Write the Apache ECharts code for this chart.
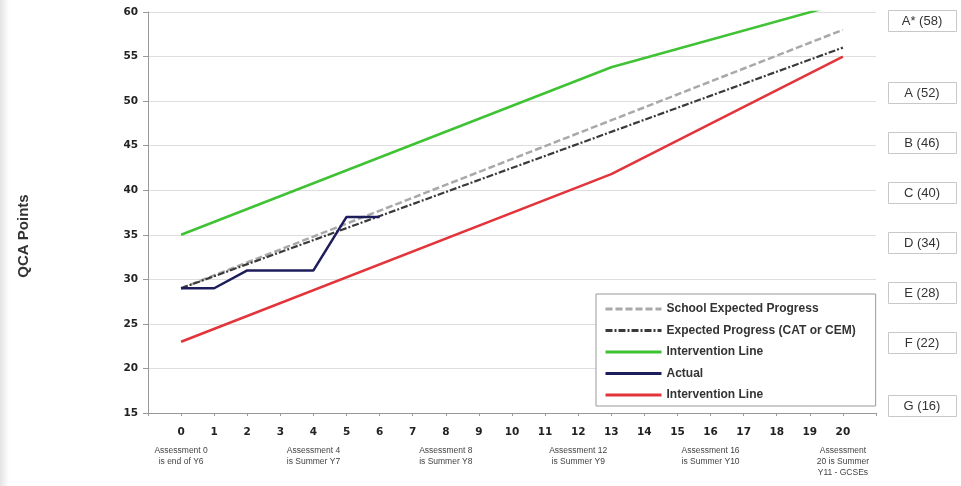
<!DOCTYPE html>
<html>
<head>
<meta charset="utf-8">
<script src="https://cdn.jsdelivr.net/npm/echarts@6/dist/echarts.min.js"></script>
<style>
html,body{margin:0;padding:0;background:#fff;}
#chart{width:961px;height:486px;}
</style>
</head>
<body>
<div id="chart"></div>
<script>
// ---- data ----
const assessments = [0,1,2,3,4,5,6,7,8,9,10,11,12,13,14,15,16,17,18,19,20];
const yTicks = [15,20,25,30,35,40,45,50,55,60];
const schoolExpectedX = [0, 20];
const schoolExpectedY = [29, 58];
const catExpectedX = [0, 20];
const catExpectedY = [29, 56];
const interventionHighX = [0, 13, 20];
const interventionHighY = [35, 53.8, 61];
const actualX = [0, 1, 2, 3, 4, 5, 6];
const actualY = [29, 29, 31, 31, 31, 37, 37];
const interventionLowX = [0, 13, 20];
const interventionLowY = [23, 41.8, 55];
const gradeLabels = ['A* (58)','A (52)','B (46)','C (40)','D (34)','E (28)','F (22)','G (16)'];
const gradeBoxTops = [10, 82, 132, 182, 232, 282, 332, 395];
const noteSteps = [0, 4, 8, 12, 16, 20];
const noteTexts = ['Assessment 0\nis end of Y6','Assessment 4\nis Summer Y7','Assessment 8\nis Summer Y8','Assessment 12\nis Summer Y9','Assessment 16\nis Summer Y10','Assessment\n20 is Summer\nY11 - GCSEs'];

const pairs = (xs, ys) => xs.map((x, i) => [x, ys[i]]);

const chart = echarts.init(document.getElementById('chart'), null, {renderer:'canvas'});

const graphics = [
  {type:'rect', shape:{x:0, y:0, width:9, height:486}, style:{fill:new echarts.graphic.LinearGradient(0,0,1,0,[{offset:0,color:'#e4e4e4'},{offset:1,color:'#ffffff'}])}},
  {type:'text', x:24, y:236, rotation:Math.PI/2, style:{text:'QCA Points', font:'bold 15px "Liberation Sans", Arial, sans-serif', fill:'#333', align:'center', verticalAlign:'middle'}}
];
gradeLabels.forEach((t, i) => {
  graphics.push({type:'rect', shape:{x:888.5, y:gradeBoxTops[i]+0.5, width:68, height:21}, style:{fill:'#fff', stroke:'#c8c8c8', lineWidth:1}});
  graphics.push({type:'text', x:922, y:gradeBoxTops[i]+11.5, style:{text:t, font:'13px "Liberation Sans", Arial, sans-serif', fill:'#333', align:'center', verticalAlign:'middle'}});
});

const option = {
  backgroundColor:'#fff',
  animation:false,
  grid:{left:148, right:85, top:12, bottom:73, containLabel:false},
  legend:{
    orient:'vertical', left:596, top:294,
    backgroundColor:'#fff', borderColor:'#999', borderWidth:1,
    padding:[9,20,5,8], itemWidth:56, itemHeight:10, itemGap:9.5,
    itemStyle:{opacity:0},
    lineStyle:{width:3},
    formatter:(n)=>n.trim(),
    textStyle:{fontFamily:'"Liberation Sans", Arial, sans-serif', fontWeight:'bold', fontSize:12, color:'#333'},
    data:['School Expected Progress','Expected Progress (CAT or CEM)','Intervention Line','Actual','Intervention Line '],
    selectedMode:false
  },
  xAxis:[
    {type:'value', min:-1, max:21, interval:1, position:'bottom',
     axisLine:{show:true, onZero:false, lineStyle:{color:'#999'}},
     axisTick:{show:true, length:3, lineStyle:{color:'#999'}},
     axisLabel:{margin:14, fontFamily:'"DejaVu Sans", Verdana, sans-serif', fontWeight:'bold', fontSize:10.5, color:'#222',
       formatter:(v)=> assessments.indexOf(v) >= 0 ? String(v) : ''},
     splitLine:{show:false}},
    {type:'value', min:-1, max:21, interval:1, position:'bottom',
     axisLine:{show:false, onZero:false}, axisTick:{show:false}, splitLine:{show:false},
     axisLabel:{margin:32, lineHeight:11, fontFamily:'"Liberation Sans", Arial, sans-serif', fontSize:8.5, color:'#444', align:'center',
       formatter:(v)=>{const i = noteSteps.indexOf(v); return i >= 0 ? noteTexts[i] : '';}}}
  ],
  yAxis:{type:'value', min:15, max:60, interval:5,
    axisLine:{show:true, onZero:false, lineStyle:{color:'#999'}},
    axisTick:{show:true, length:5, lineStyle:{color:'#999'}},
    axisLabel:{margin:10, fontFamily:'"DejaVu Sans", Verdana, sans-serif', fontWeight:'bold', fontSize:10.5, color:'#222',
      formatter:(v)=> yTicks.indexOf(v) >= 0 ? String(v) : ''},
    splitLine:{show:true, lineStyle:{color:'#dedede', width:1}}},
  series:[
    {name:'School Expected Progress', type:'line', data:pairs(schoolExpectedX, schoolExpectedY), symbol:'none', clip:true,
     lineStyle:{color:'#a9a9a9', width:2.5, type:[7,3]}, itemStyle:{color:'#a9a9a9'}},
    {name:'Expected Progress (CAT or CEM)', type:'line', data:pairs(catExpectedX, catExpectedY), symbol:'none', clip:true,
     lineStyle:{color:'#3a3a3a', width:2.2, type:[7,2,2,2]}, itemStyle:{color:'#3a3a3a'}},
    {name:'Intervention Line', type:'line', data:pairs(interventionHighX, interventionHighY), symbol:'none', clip:true,
     lineStyle:{color:'#3fc334', width:2.5}, itemStyle:{color:'#3fc334'}},
    {name:'Actual', type:'line', data:pairs(actualX, actualY), symbol:'none', clip:true,
     lineStyle:{color:'#1e1d5c', width:2.5}, itemStyle:{color:'#1e1d5c'}},
    {name:'Intervention Line ', type:'line', data:pairs(interventionLowX, interventionLowY), symbol:'none', clip:true,
     lineStyle:{color:'#e2343a', width:2.5}, itemStyle:{color:'#e2343a'}}
  ],
  graphic:graphics
};
chart.setOption(option);
</script>
</body>
</html>
